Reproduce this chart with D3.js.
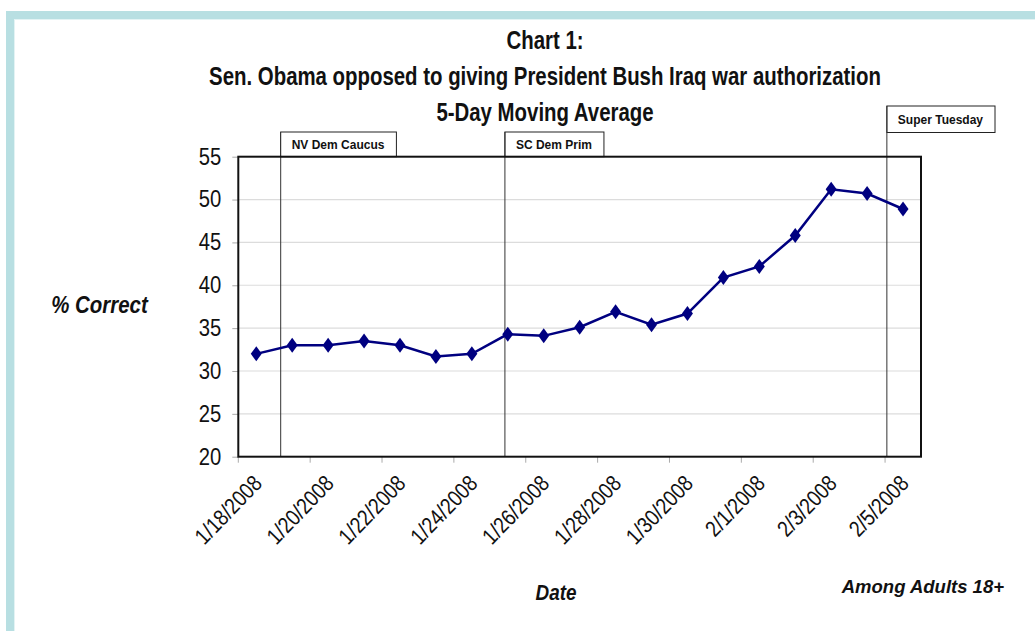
<!DOCTYPE html>
<html><head><meta charset="utf-8">
<script src="https://cdn.jsdelivr.net/npm/d3@7"></script>
<style>
body{margin:0;background:#fff;}
svg{display:block;}
</style></head>
<body>
<svg id="chart" width="1035" height="631"></svg>
<script>
const dates = ["1/18/2008","1/19/2008","1/20/2008","1/21/2008","1/22/2008","1/23/2008","1/24/2008","1/25/2008","1/26/2008","1/27/2008","1/28/2008","1/29/2008","1/30/2008","1/31/2008","2/1/2008","2/2/2008","2/3/2008","2/4/2008","2/5/2008"];
const values = [32.0,33.0,33.0,33.5,33.0,31.7,32.0,34.3,34.1,35.1,36.9,35.4,36.7,40.9,42.2,45.8,51.2,50.7,48.9];
const yTicks = [20,25,30,35,40,45,50,55];
const xLabels = ["1/18/2008","1/20/2008","1/22/2008","1/24/2008","1/26/2008","1/28/2008","1/30/2008","2/1/2008","2/3/2008","2/5/2008"];
// event markers: position in category units from left edge of plot
const eventNames = ["NV Dem Caucus","SC Dem Prim","Super Tuesday"];
const eventPos = [1.18, 7.42, 18.05];
const eventRaised = [false,false,true];
const titleLines = ["Chart 1:","Sen. Obama opposed to giving President Bush Iraq war authorization","5-Day Moving Average"];

const svg = d3.select("#chart");
const W = 1035, H = 631;
const m = {left:238.3, right:921, top:156.7, bottom:456.7};
const sans = "'Liberation Sans',Arial,sans-serif";

// teal frame
svg.append("rect").attr("x",6).attr("y",11).attr("width",W-6).attr("height",8).attr("fill","#b8dfe2");
svg.append("rect").attr("x",6).attr("y",11).attr("width",8).attr("height",H-11).attr("fill","#b8dfe2");
svg.append("rect").attr("x",14).attr("y",19).attr("width",W-14).attr("height",1).attr("fill","#e3f3f4");
svg.append("rect").attr("x",14).attr("y",19).attr("width",1).attr("height",H-19).attr("fill","#e3f3f4");

const x = d3.scaleBand().domain(dates).range([m.left, m.right]).padding(0);
const bw = x.bandwidth();
const y = d3.scaleLinear().domain([20,55]).range([m.bottom, m.top]);

// gridlines
svg.append("g").selectAll("line").data(yTicks.filter(d=>d>20&&d<55)).join("line")
  .attr("x1",m.left).attr("x2",m.right).attr("y1",d=>y(d)).attr("y2",d=>y(d))
  .attr("stroke","#dcdcdc").attr("stroke-width",1.2);

// y axis
const yAxis = d3.axisLeft(y).tickValues(yTicks).tickSize(6).tickPadding(11).tickFormat(d3.format("d"));
const ya = svg.append("g").attr("transform",`translate(${m.left},0)`).call(yAxis);
ya.select(".domain").remove();
ya.selectAll(".tick line").attr("stroke","#aaa");
ya.selectAll(".tick text").attr("font-family",sans).attr("font-size",22).attr("fill","#111")
  .attr("transform","scale(0.92,1.05)").attr("x",-18.5).attr("text-anchor","end");

// x axis ticks at every 2nd band boundary
const tickIdx = d3.range(0, dates.length, 2);
svg.append("g").selectAll("line").data(tickIdx).join("line")
  .attr("x1",i=>x(dates[i])).attr("x2",i=>x(dates[i]))
  .attr("y1",m.bottom).attr("y2",m.bottom+6).attr("stroke","#aaa");

svg.append("g").selectAll("text").data(xLabels).join("text")
  .attr("transform",d=>`translate(${x(d)+bw/2+7},${m.bottom+28}) rotate(-46) scale(0.93,1.1)`)
  .attr("text-anchor","end").attr("font-family",sans).attr("font-size",20.5).attr("fill","#111")
  .text(d=>d);

// event lines & boxes
const ev = svg.append("g");
eventNames.forEach((name,i)=>{
  const ex = m.left + eventPos[i]*bw;
  const top = eventRaised[i] ? 106 : 132;
  const bot = eventRaised[i] ? 132.5 : m.top;
  ev.append("line").attr("x1",ex).attr("x2",ex).attr("y1",top).attr("y2",m.bottom)
    .attr("stroke","#333").attr("stroke-width",1);
  const t = ev.append("text").attr("x",ex+11).attr("y",(top+bot)/2+4.5)
    .attr("font-family",sans).attr("font-weight","bold").attr("font-size",12)
    .attr("fill","#111").text(name);
  const w = t.node().getComputedTextLength();
  ev.insert("rect","text").attr("x",ex).attr("y",top).attr("width",w+23).attr("height",bot-top)
    .attr("fill","#fff").attr("stroke","#222").attr("stroke-width",1);
});

// plot border
svg.append("rect").attr("x",m.left).attr("y",m.top).attr("width",m.right-m.left).attr("height",m.bottom-m.top)
  .attr("fill","none").attr("stroke","#111").attr("stroke-width",2);

// line
const line = d3.line().x((d,i)=>x(dates[i])+bw/2).y(d=>y(d));
svg.append("path").datum(values).attr("d",line).attr("fill","none").attr("stroke","#000080").attr("stroke-width",2.5);
svg.append("g").selectAll("path").data(values).join("path")
  .attr("transform",(d,i)=>`translate(${x(dates[i])+bw/2},${y(d)})`)
  .attr("d","M0,-7.5L5.5,0L0,7.5L-5.5,0Z").attr("fill","#000080");

// titles (condensed bold)
const tY = [49,85,121];
svg.append("g").selectAll("text").data(titleLines).join("text")
  .attr("transform",(d,i)=>`translate(545,${tY[i]}) scale(0.8,1)`).attr("text-anchor","middle")
  .attr("font-family",sans).attr("font-weight","bold").attr("font-size",25.5).attr("fill","#111")
  .text(d=>d);

// axis titles
svg.append("text").attr("transform","translate(99.5,313) scale(0.93,1.05)").attr("text-anchor","middle")
  .attr("font-family",sans).attr("font-weight","bold").attr("font-style","italic")
  .attr("font-size",22).attr("fill","#111").text("% Correct");
svg.append("text").attr("transform","translate(556,600) scale(0.9,1.05)").attr("text-anchor","middle")
  .attr("font-family",sans).attr("font-weight","bold").attr("font-style","italic")
  .attr("font-size",21).attr("fill","#111").text("Date");
svg.append("text").attr("x",1004).attr("y",593).attr("text-anchor","end")
  .attr("font-family",sans).attr("font-weight","bold").attr("font-style","italic")
  .attr("font-size",18.5).attr("fill","#111").text("Among Adults 18+");
</script>
</body></html>
